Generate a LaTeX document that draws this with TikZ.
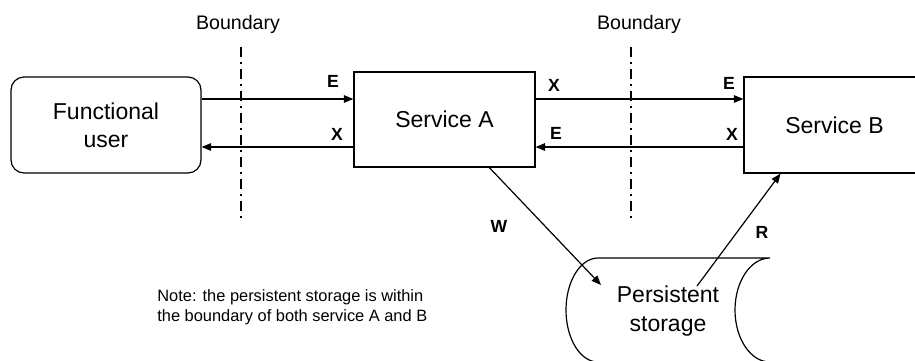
\documentclass[tikz,border=0pt]{standalone}
\usepackage{fontspec}
\setmainfont{Liberation Sans}
\usetikzlibrary{arrows.meta,positioning}

\tikzset{
  flow/.style={line width=0.6pt,-{Triangle[length=4.8pt,width=3.8pt]}},
  bndline/.style={line width=0.8pt,dash pattern=on 5pt off 2.5pt on 1pt off 2.5pt},
  userbox/.style={draw,line width=0.6pt,rounded corners=6.5pt,align=center,
    minimum width=95pt,minimum height=48pt,font=\fontsize{11.5}{14}\selectfont},
  svcbox/.style={draw,line width=0.6pt,align=center,
    minimum width=90.5pt,font=\fontsize{11.5}{14}\selectfont},
  flowlbl/.style={font=\fontsize{8.8}{10}\selectfont\bfseries},
  bndlbl/.style={font=\fontsize{9.8}{12}\selectfont},
}

\begin{document}
\begin{tikzpicture}[x=0.5pt,y=-0.5pt]
        \clip (0,0) rectangle (915,360);
        
        % rows of the two message flows
        \coordinate (rowE) at (0,99);
        \coordinate (rowX) at (0,147);
        
        \node[userbox] (user) at (106,125) {Functional\\user};
        \node[svcbox,minimum height=47.5pt] (svcA) at (444.5,119.5) {Service A};
        \node[svcbox,minimum height=48pt] (svcB) at (834.5,125) {Service B};
        
        % boundaries
        \node[bndlbl] (bnd1) at (238,24) {Boundary};
        \node[bndlbl] (bnd2) at (639,24) {Boundary};
        \coordinate (bnd1end) at (241,222);
        \coordinate (bnd2end) at (631,222);
        \draw[bndline] (bnd1.south -| bnd1end) ++(0,7) -- (bnd1end);
        \draw[bndline] (bnd2.south -| bnd2end) ++(0,7) -- (bnd2end);
        
        % user <-> service A
        \draw[flow] (user.east |- rowE) -- (svcA.west |- rowE);
        \draw[flow] (svcA.west |- rowX) -- (user.east |- rowX);
        \node[flowlbl] (lblE1) at (333,81) {E};
        \node[flowlbl] (lblX1) at (337,134) {X};
        
        % service A <-> service B
        \draw[flow] (svcA.east |- rowE) -- (svcB.west |- rowE);
        \draw[flow] (svcB.west |- rowX) -- (svcA.east |- rowX);
        \node[flowlbl] (lblX2) at (554,85) {X};
        \node[flowlbl] (lblE2) at (729,83) {E};
        \node[flowlbl] (lblE3) at (556,133) {E};
        \node[flowlbl] (lblX3) at (732,134) {X};
        
        % persistent storage
        \draw[line width=0.6pt] (770,362) -- (598,362)
          arc[start angle=270,end angle=90,x radius=16pt,y radius=26pt]
          -- (770,258)
          arc[start angle=90,end angle=270,x radius=17.5pt,y radius=26pt];
        \node[align=center,font=\fontsize{11.5}{14.5}\selectfont] (store) at (668,311) {Persistent\\storage};
        
        %W / R
        \coordinate (wtip) at (601,285);
        \coordinate (rfoot) at (697,286);
        \draw[flow] (svcA.-47.5) -- (wtip);
        \draw[flow] (rfoot) -- (svcB.222);
        \node[flowlbl] (lblW) at (499,226) {W};
        \node[flowlbl] (lblR) at (762,232) {R};
        
        \node[align=left,anchor=west,inner sep=0pt,font=\fontsize{8.2}{10}\selectfont] (note) at (157,307)
          {Note: the persistent storage is within\\the boundary of both service A and B};
\end{tikzpicture}
\end{document}
